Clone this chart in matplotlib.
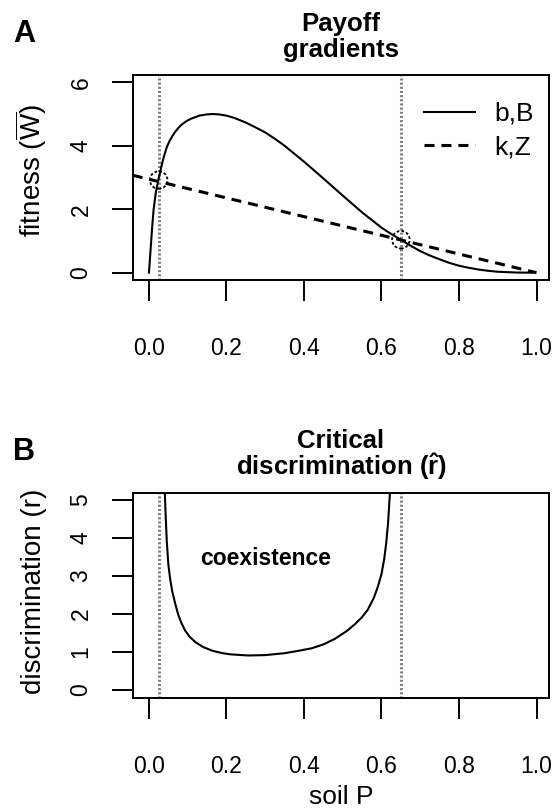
import numpy as np
import matplotlib
matplotlib.use("Agg")
import matplotlib.pyplot as plt

plt.rcParams['font.family'] = ['Liberation Sans', 'DejaVu Sans']
plt.rcParams['mathtext.fontset'] = 'custom'
plt.rcParams['mathtext.rm'] = 'Liberation Sans'
plt.rcParams['mathtext.it'] = 'Liberation Sans:italic'
plt.rcParams['mathtext.bf'] = 'Liberation Sans:bold'
plt.rcParams['lines.scale_dashes'] = False

# Panel A: payoff gradients
bB_x = [0.0, 0.004, 0.008, 0.012, 0.018, 0.025, 0.035, 0.04, 0.046, 0.053, 0.06, 0.067,
        0.075, 0.082, 0.09, 0.10, 0.11, 0.13, 0.15, 0.166, 0.18, 0.20, 0.22, 0.25, 0.275,
        0.30, 0.325, 0.35, 0.40, 0.45, 0.50, 0.55, 0.60, 0.625, 0.65, 0.675, 0.70, 0.725,
        0.75, 0.775, 0.80, 0.825, 0.85, 0.875, 0.90, 0.95, 0.99]
bB_y = [0.0, 0.7, 1.4, 2.0, 2.55, 2.97, 3.5, 3.72, 3.96, 4.15, 4.3, 4.43,
        4.55, 4.64, 4.72, 4.8, 4.86, 4.95, 4.99, 5.0, 4.99, 4.95, 4.88, 4.73, 4.58,
        4.42, 4.22, 4.0, 3.5, 2.97, 2.43, 1.9, 1.42, 1.22, 1.04, 0.85, 0.68, 0.54,
        0.42, 0.31, 0.22, 0.155, 0.10, 0.06, 0.03, 0.005, 0.0]
kZ_x = [-0.042, 1.0]
kZ_y = [3.07, 0.0]
cross_x = [0.025, 0.65]
cross_y = [2.92, 1.04]
thresh_x = [0.025, 0.65]

# Panel B: critical discrimination
r_x = [0.04, 0.043, 0.046, 0.05, 0.055, 0.06, 0.067, 0.075, 0.083, 0.093, 0.105, 0.12,
       0.14, 0.165, 0.19, 0.21, 0.256, 0.30, 0.35, 0.39, 0.42, 0.45, 0.48, 0.51, 0.53,
       0.55, 0.565, 0.58, 0.59, 0.60, 0.607, 0.612, 0.617, 0.62, 0.623]
r_y = [5.4, 4.6, 3.9, 3.3, 2.9, 2.6, 2.3, 2.0, 1.78, 1.57, 1.4, 1.26,
       1.13, 1.03, 0.97, 0.94, 0.91, 0.92, 0.97, 1.04, 1.1, 1.2, 1.35, 1.55, 1.72,
       1.92, 2.12, 2.42, 2.7, 3.05, 3.45, 3.85, 4.4, 4.9, 5.4]

xticks = [0.0, 0.2, 0.4, 0.6, 0.8, 1.0]
xticklabels = ["0.0", "0.2", "0.4", "0.6", "0.8", "1.0"]

W, H = 555, 811
fig = plt.figure(figsize=(W / 100, H / 100), dpi=100)


def fx(px):
    return px / W


def fy(py):
    return 1 - py / H


def style_axes(ax, yticks):
    ax.set_xlim(-0.042, 1.033)
    ax.set_xticks(xticks)
    ax.set_xticklabels(xticklabels)
    ax.set_yticks(yticks)
    for s in ax.spines.values():
        s.set_linewidth(1.4)
    ax.tick_params(axis='both', direction='out', length=15, width=1.4, labelsize=16.5)
    ax.tick_params(axis='x', pad=26)
    ax.tick_params(axis='y', pad=14, labelrotation=90)
    for lab in ax.get_yticklabels():
        lab.set_va('center')
    for xv in thresh_x:
        ax.axvline(xv, color='#808080', lw=2.2, dashes=(1.5, 1.5), zorder=1)


# ---- A ----
ax_a = fig.add_axes([fx(132.7), fy(280), fx(416.6), 205.3 / H])
ax_a.plot(bB_x, bB_y, color='black', lw=1.5, label='b,B', zorder=3)
ax_a.plot(kZ_x, kZ_y, color='black', lw=2.2, dashes=(7.2, 5), label='k,Z', zorder=3)
ax_a.scatter(cross_x, cross_y, s=160, facecolors='none', edgecolors='black',
             linewidths=1.3, linestyles=(0, (2, 1.5)), zorder=4)
ax_a.set_ylim(-0.23, 6.24)
style_axes(ax_a, [0, 2, 4, 6])
ax_a.legend(loc='upper left', bbox_to_anchor=(fx(424), fy(102)),
            bbox_transform=fig.transFigure, frameon=False, fontsize=19,
            borderpad=0, borderaxespad=0, handlelength=1.93, handletextpad=0.72,
            labelspacing=0.35)

fig.text(fx(13), fy(41.7), 'A', fontsize=22, fontweight='bold', ha='left', va='baseline')
fig.text(fx(341), fy(31.3), 'Payoff', fontsize=18.5, fontweight='bold', ha='center', va='baseline')
fig.text(fx(341), fy(56.7), 'gradients', fontsize=18.5, fontweight='bold', ha='center', va='baseline')
fig.text(fx(41), fy(171), r'fitness ($\mathrm{\overline{W}}$)', fontsize=20, rotation=90,
         rotation_mode='anchor', ha='center', va='baseline')

# ---- B ----
ax_b = fig.add_axes([fx(132.7), fy(697.7), fx(416.6), 205 / H])
ax_b.plot(r_x, r_y, color='black', lw=1.5, zorder=3)
ax_b.set_ylim(-0.2, 5.19)
style_axes(ax_b, [0, 1, 2, 3, 4, 5])
ax_b.text(0.30, 3.45, 'coexistence', fontsize=16.5, fontweight='bold', ha='center', va='center')

fig.text(fx(13), fy(459.7), 'B', fontsize=22, fontweight='bold', ha='left', va='baseline')
fig.text(fx(341), fy(448.3), 'Critical', fontsize=18.5, fontweight='bold', ha='center', va='baseline')
fig.text(fx(341), fy(474.7), r'discrimination ($\mathbf{\hat{r}}$)', fontsize=18.5,
         fontweight='bold', ha='center', va='baseline')
fig.text(fx(41), fy(591), 'discrimination (r)', fontsize=20, rotation=90,
         rotation_mode='anchor', ha='center', va='baseline')
fig.text(fx(341), fy(804), 'soil P', fontsize=19, ha='center', va='baseline')

fig.savefig('out.png', dpi=100)
